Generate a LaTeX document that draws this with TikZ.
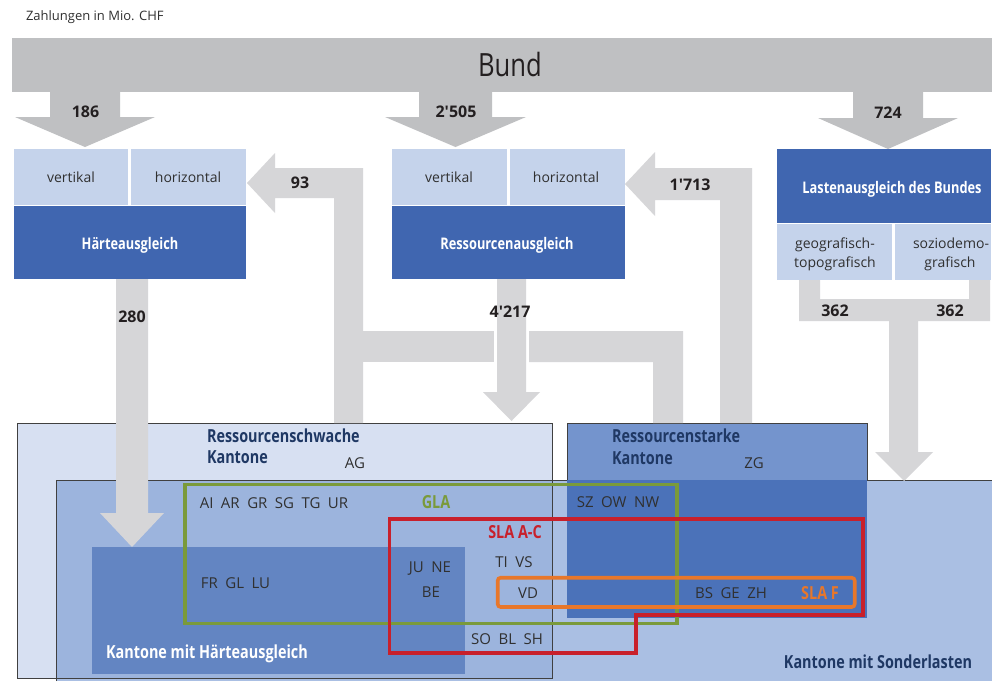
\documentclass[tikz,border=0pt]{standalone}
\usepackage{fontspec}
\setmainfont{Open Sans}
\newfontfamily\condf{Open Sans}[FakeStretch=0.8]
\definecolor{bundc}{HTML}{BFC0C2}
\definecolor{arrowc}{HTML}{D6D6D8}
\definecolor{lightc}{HTML}{C5D3EB}
\definecolor{darkc}{HTML}{4066B0}
\definecolor{schwachec}{HTML}{D7E0F2}
\definecolor{sonderc}{HTML}{AABFE3}
\definecolor{overlapc}{HTML}{9CB4DD}
\definecolor{haertec}{HTML}{6385C2}
\definecolor{starketop}{HTML}{7494CD}
\definecolor{starkebot}{HTML}{4B72B9}
\definecolor{bordc}{HTML}{404040}
\definecolor{navyc}{HTML}{1F3864}
\definecolor{textc}{HTML}{303030}
\definecolor{numc}{HTML}{231F20}
\definecolor{glac}{HTML}{7A9A3B}
\definecolor{slac}{HTML}{C8202B}
\definecolor{slafc}{HTML}{E8772A}
\newcommand\gp{\hspace{0.5em}}
\tikzset{
  txt/.style={inner sep=0pt, outer sep=0pt},
  cellt/.style={txt, font=\fontsize{14}{16}\selectfont, text=textc, text height=10pt, text depth=0pt},
  kt/.style={txt, font=\fontsize{15}{17}\selectfont, text=textc, text height=10.7pt, text depth=0pt},
  num/.style={txt, font=\fontsize{16}{18}\selectfont\bfseries, text=numc, text height=11.4pt, text depth=0pt},
  hd/.style={txt, font=\condf\fontsize{18}{20}\selectfont\bfseries, text=navyc, text height=12.9pt, text depth=0pt},
  boxt/.style={txt, font=\condf\fontsize{16}{18}\selectfont\bfseries, text=white, text height=11.4pt, text depth=0pt},
  lbl/.style={txt, font=\condf\fontsize{18}{20}\selectfont\bfseries, text height=12.9pt, text depth=0pt},
  outl/.style={line width=3.6pt},
  bordl/.style={draw=bordc, line width=1pt},
}
\begin{document}
\begin{tikzpicture}[x=1pt,y=-1pt]
\useasboundingbox (0,0) rectangle (992,681);
\fill[white] (0,0) rectangle (992,681);

% bottom boxes
\fill[schwachec] (17,423) rectangle (552,678);
\fill[sonderc] (56,480) rectangle (992,681);
\fill[overlapc] (56,480) rectangle (552,678);
\draw[bordl] (17,423) rectangle (552,678);
\draw[bordl] (56,681) -- (56,480) -- (992,480);
\fill[haertec] (92,547) rectangle (465,674);
\fill[starketop] (567,423) rectangle (867,480);
\fill[starkebot] (567,480) rectangle (867,618);
\draw[bordl] (567,480) -- (567,423) -- (867,423) -- (867,480);

% Bund bar and arrows
\fill[bundc] (12,38) rectangle (992,92);
\fill[bundc] (50,91) -- (120,91) -- (120,117) -- (155,117) -- (85,147) -- (15,117) -- (50,117) -- cycle;
\fill[bundc] (419,91) -- (492,91) -- (492,117) -- (526,117) -- (455.5,147) -- (385,117) -- (419,117) -- cycle;
\fill[bundc] (853,91) -- (923,91) -- (923,118) -- (958,118) -- (888,149) -- (818,118) -- (853,118) -- cycle;

% flow arrows
\fill[arrowc] (247,183) -- (275,153) -- (275,168) -- (363,168) -- (363,423) -- (334,423) -- (334,198) -- (275,198) -- (275,213) -- cycle;
\fill[arrowc] (363,331) rectangle (494,362);
\fill[arrowc] (625,184) -- (655,152) -- (655,168) -- (752,168) -- (752,423) -- (720,423) -- (720,200) -- (655,200) -- (655,216) -- cycle;
\fill[arrowc] (529,331) -- (683,331) -- (683,423) -- (653,423) -- (653,362) -- (529,362) -- cycle;
\fill[arrowc] (497,279) -- (526,279) -- (526,392) -- (540,392) -- (511.5,421) -- (483,392) -- (497,392) -- cycle;
\fill[arrowc] (116,279) -- (148,279) -- (148,513) -- (164,513) -- (132,547) -- (100,513) -- (116,513) -- cycle;
\fill[arrowc] (799,280) -- (820,280) -- (820,299) -- (969,299) -- (969,280) -- (990,280) -- (990,321) -- (918,321) -- (918,452) -- (933,452) -- (904,481) -- (875,452) -- (889,452) -- (889,321) -- (799,321) -- cycle;

% top boxes
\fill[lightc] (14,149) rectangle (128,205);
\fill[lightc] (131,149) rectangle (246,205);
\fill[darkc] (14,206) rectangle (246,279);
\fill[lightc] (392,149) rectangle (507,205);
\fill[lightc] (510,149) rectangle (625,205);
\fill[darkc] (392,206) rectangle (625,279);
\fill[darkc] (777,149) rectangle (991,223);
\fill[lightc] (777,224) rectangle (892,280);
\fill[lightc] (895,224) rectangle (991,280);

% outlined groups
\draw[outl, draw=glac] (185,484.3) rectangle (677,623.3);
\draw[outl, draw=slac] (389.5,518.7) -- (862.7,518.7) -- (862.7,615) -- (636,615) -- (636,652.7) -- (389.5,652.7) -- cycle;
\draw[outl, draw=slafc, rounded corners=3pt] (497.7,577.7) rectangle (854.7,607);

% texts
\node[txt, font=\fontsize{13}{15}\selectfont, text=textc, text height=9.3pt, text depth=0pt, anchor=west] (title) at (26,16) {Zahlungen in Mio. CHF};
\node[txt, font=\condf\fontsize{32}{36}\selectfont, text=numc, text height=22.8pt, text depth=0pt] (bund) at (510,65) {Bund};

\node[num] (n186) at (85.5,111.5) {186};
\node[num] (n2505) at (456,112) {2\textquotesingle505};
\node[num] (n724) at (888,112.5) {724};
\node[num] (n93) at (300,183) {93};
\node[num] (n1713) at (690,184.5) {1\textquotesingle713};
\node[num] (n280) at (132,317) {280};
\node[num] (n4217) at (510,312) {4\textquotesingle217};
\node[num] (n362a) at (835,311) {362};
\node[num] (n362b) at (950,311) {362};

\node[cellt] (hv) at (71,177.5) {vertikal};
\node[cellt] (hh) at (188,177.5) {horizontal};
\node[boxt] (ht) at (130,244) {Härteausgleich};
\node[cellt] (rv) at (449,177.5) {vertikal};
\node[cellt] (rh) at (566,177.5) {horizontal};
\node[boxt] (rt) at (507,244) {Ressourcenausgleich};
\node[boxt] (lt) at (892,187.5) {Lastenausgleich des Bundes};
\node[cellt] (lg1) at (835,243) {geografisch-};
\node[cellt] (lg2) at (835,262) {topografisch};
\node[cellt] (ls1) at (951,243) {soziodemo-};
\node[cellt] (ls2) at (950,262) {grafisch};

\node[hd, anchor=west] (rs1) at (207,436) {Ressourcenschwache};
\node[hd, anchor=west] (rs2) at (207,457) {Kantone};
\node[kt] (ag) at (355,463) {AG};
\node[hd, anchor=west] (rst1) at (612,436) {Ressourcenstarke};
\node[hd, anchor=west] (rst2) at (612,458) {Kantone};
\node[kt] (zg) at (754,463) {ZG};

\node[kt] (k1) at (274,503) {AI\gp AR\gp GR\gp SG\gp TG\gp UR};
\node[kt] (k2) at (235.5,583) {FR\gp GL\gp LU};
\node[kt] (k3) at (430,567) {JU\gp NE};
\node[kt] (k4) at (431,592) {BE};
\node[kt] (k5) at (514,562) {TI\gp VS};
\node[kt] (k6) at (528,593) {VD};
\node[kt] (k7) at (507,639) {SO\gp BL\gp SH};
\node[kt] (k8) at (618,502) {SZ\gp OW\gp NW};
\node[kt] (k9) at (731,593) {BS\gp GE\gp ZH};

\node[lbl, text=glac] (gla) at (436,502) {GLA};
\node[lbl, text=slac] (slaac) at (515,532) {SLA A-C};
\node[lbl, text=slafc] (slaf) at (820,593) {SLA F};

\node[hd, text=white] (kh) at (207,652) {Kantone mit Härteausgleich};
\node[hd] (ks) at (878,662) {Kantone mit Sonderlasten};
\end{tikzpicture}
\end{document}
